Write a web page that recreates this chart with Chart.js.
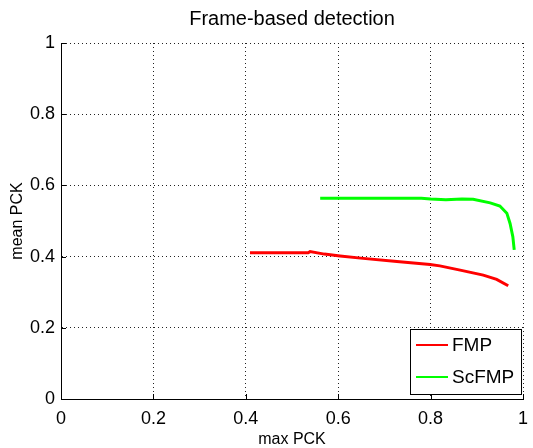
<!DOCTYPE html>
<html>
<head>
<meta charset="utf-8">
<script src="https://cdn.jsdelivr.net/npm/chart.js@4/dist/chart.umd.min.js"></script>
<style>
  html, body { margin: 0; padding: 0; background: #fff; }
  #wrap { width: 533px; height: 448px; }
</style>
</head>
<body>
<div id="wrap"><canvas id="pckChart" width="533" height="448"></canvas></div>
<script>
// FMP curve (max PCK vs mean PCK)
const fmpX = [0.409, 0.45, 0.50, 0.535, 0.539, 0.57, 0.604, 0.654, 0.727, 0.799, 0.820, 0.864, 0.914, 0.943, 0.968];
const fmpY = [0.411, 0.411, 0.411, 0.411, 0.414, 0.407, 0.402, 0.395, 0.386, 0.378, 0.374, 0.362, 0.348, 0.336, 0.318];

// ScFMP curve
const scfmpX = [0.561, 0.62, 0.70, 0.78, 0.80, 0.833, 0.868, 0.892, 0.929, 0.950, 0.965, 0.972, 0.978, 0.981];
const scfmpY = [0.564, 0.564, 0.564, 0.564, 0.562, 0.560, 0.562, 0.561, 0.551, 0.542, 0.522, 0.493, 0.456, 0.419];

const tickValues = [0, 0.2, 0.4, 0.6, 0.8, 1];

const FONT = "'Liberation Sans', Arial, Helvetica, sans-serif";

function toPoints(xs, ys) {
  return xs.map(function (x, i) {
    return { x: x, y: ys[i] };
  });
}

// inward tick marks, matlab style
const innerTicks = {
  id: "innerTicks",
  afterDraw: function (chart) {
    const ctx = chart.ctx;
    const area = chart.chartArea;
    const xs = chart.scales.x;
    const ys = chart.scales.y;
    ctx.save();
    ctx.strokeStyle = "#000";
    ctx.lineWidth = 1;
    ctx.beginPath();
    tickValues.forEach(function (v) {
      const px = Math.round(xs.getPixelForValue(v)) + 0.5;
      ctx.moveTo(px, area.bottom);
      ctx.lineTo(px, area.bottom - 5);
      const py = Math.round(ys.getPixelForValue(v)) + 0.5;
      ctx.moveTo(area.left, py);
      ctx.lineTo(area.left + 5, py);
    });
    ctx.stroke();
    ctx.restore();
  },
};

// legend box inside the plot, bottom right
const boxLegend = {
  id: "boxLegend",
  afterDatasetsDraw: function (chart) {
    const ctx = chart.ctx;
    const left = 410.5, top = 329.5, w = 111, h = 65;
    ctx.save();
    ctx.fillStyle = "#fff";
    ctx.fillRect(left, top, w, h);
    ctx.strokeStyle = "#000";
    ctx.lineWidth = 1;
    ctx.strokeRect(left, top, w, h);
    ctx.font = "19px " + FONT;
    ctx.textBaseline = "middle";
    ctx.textAlign = "left";
    chart.data.datasets.forEach(function (ds, i) {
      const y = 345 + i * 32;
      ctx.strokeStyle = ds.borderColor;
      ctx.lineWidth = 2;
      ctx.beginPath();
      ctx.moveTo(416, y);
      ctx.lineTo(448, y);
      ctx.stroke();
      ctx.fillStyle = "#000";
      ctx.fillText(ds.label, 452, y + 1);
    });
    ctx.restore();
  },
};

const ctx = document.getElementById("pckChart");

new Chart(ctx, {
  type: "scatter",

  data: {
    datasets: [
      {
        label: "FMP",
        data: toPoints(fmpX, fmpY),
        borderColor: "#ff0000",
        backgroundColor: "#ff0000",
        showLine: true,
        borderWidth: 3,
        pointRadius: 0,
        tension: 0,
      },
      {
        label: "ScFMP",
        data: toPoints(scfmpX, scfmpY),
        borderColor: "#00ff00",
        backgroundColor: "#00ff00",
        showLine: true,
        borderWidth: 3,
        pointRadius: 0,
        tension: 0,
      },
    ],
  },

  options: {
    responsive: false,
    animation: false,
    events: [],

    layout: {
      padding: { left: 0, right: 10, top: 0, bottom: 0 },
    },

    plugins: {
      legend: { display: false },
      tooltip: { enabled: false },
      title: {
        display: true,
        fullSize: false,
        text: "Frame-based detection",
        color: "#000",
        font: { family: FONT, size: 20, weight: "normal", lineHeight: 1.2 },
        padding: { top: 7, bottom: 12 },
      },
    },

    scales: {
      x: {
        type: "linear",
        min: 0,
        max: 1,
        afterBuildTicks: function (scale) {
          scale.ticks = tickValues.map(function (v) { return { value: v }; });
        },
        afterFit: function (scale) {
          scale.height = 49;
          scale.paddingLeft = 0;
          scale.paddingRight = 0;
        },
        ticks: {
          color: "#000",
          font: { family: FONT, size: 18 },
          padding: 9,
          maxRotation: 0,
          callback: function (value) { return String(value); },
        },
        grid: {
          color: "#222",
          lineWidth: 1,
          drawTicks: false,
        },
        border: { display: true, color: "#000", width: 1, dash: [1, 3] },
        title: {
          display: true,
          text: "max PCK",
          color: "#000",
          font: { family: FONT, size: 16, lineHeight: 1 },
          padding: { top: 0, bottom: 0 },
        },
      },
      y: {
        type: "linear",
        min: 0,
        max: 1,
        afterBuildTicks: function (scale) {
          scale.ticks = tickValues.map(function (v) { return { value: v }; });
        },
        afterFit: function (scale) {
          scale.width = 61;
        },
        ticks: {
          color: "#000",
          font: { family: FONT, size: 18 },
          padding: 6,
          callback: function (value) { return String(value); },
        },
        grid: {
          color: "#222",
          lineWidth: 1,
          drawTicks: false,
        },
        border: { display: true, color: "#000", width: 1, dash: [1, 3] },
        title: {
          display: true,
          text: "mean PCK",
          color: "#000",
          font: { family: FONT, size: 16, lineHeight: 1.2 },
          padding: { top: 8, bottom: 0 },
        },
      },
    },

    elements: {
      line: { borderCapStyle: "butt" },
    },
  },

  plugins: [boxLegend, innerTicks],
});
</script>
</body>
</html>
